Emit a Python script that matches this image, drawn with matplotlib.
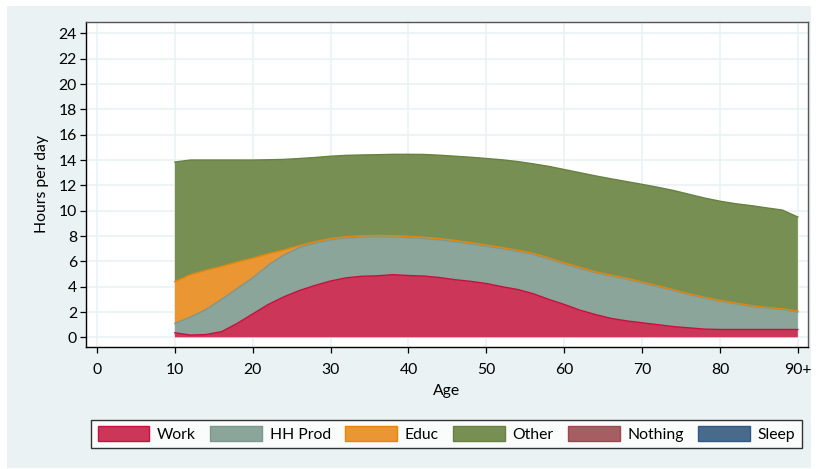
import numpy as np
import matplotlib
matplotlib.use("Agg")
import matplotlib.pyplot as plt
from matplotlib.patches import Patch, Rectangle

plt.rcParams['font.family'] = ['Lato', 'DejaVu Sans']

# ages 10..90 every 2 years
ages = [10, 12, 14, 16, 18, 20, 22, 24, 26, 28, 30, 32, 34, 36, 38, 40, 42, 44, 46, 48,
        50, 52, 54, 56, 58, 60, 62, 64, 66, 68, 70, 72, 74, 76, 78, 80, 82, 84, 86, 88, 90]

work = [0.36, 0.18, 0.22, 0.45, 1.1, 1.85, 2.6, 3.2, 3.7, 4.1, 4.45, 4.7, 4.82, 4.86, 4.95, 4.88,
        4.84, 4.72, 4.55, 4.42, 4.25, 4.0, 3.78, 3.45, 3.0, 2.6, 2.15, 1.8, 1.5, 1.3, 1.15, 1.0,
        0.85, 0.75, 0.65, 0.62, 0.62, 0.62, 0.62, 0.62, 0.62]

# cumulative tops
hh_top = [1.1, 1.6, 2.2, 3.0, 3.85, 4.7, 5.7, 6.5, 7.1, 7.45, 7.7, 7.85, 7.92, 7.94, 7.93, 7.88,
          7.8, 7.7, 7.55, 7.38, 7.2, 7.0, 6.8, 6.55, 6.2, 5.8, 5.45, 5.1, 4.85, 4.6, 4.3, 4.0,
          3.7, 3.38, 3.1, 2.85, 2.65, 2.45, 2.3, 2.2, 2.0]
educ_top = [4.39, 4.95, 5.3, 5.6, 5.95, 6.25, 6.6, 6.9, 7.25, 7.55, 7.8, 7.95, 8.02, 8.04, 8.03, 7.98,
            7.9, 7.8, 7.65, 7.48, 7.29, 7.09, 6.88, 6.63, 6.28, 5.88, 5.53, 5.17, 4.92, 4.67, 4.37, 4.07,
            3.76, 3.44, 3.16, 2.91, 2.71, 2.51, 2.36, 2.26, 2.06]
total = [13.84, 14.0, 14.0, 14.0, 14.0, 14.0, 14.02, 14.05, 14.12, 14.2, 14.3, 14.37, 14.4, 14.42,
         14.45, 14.45, 14.44, 14.38, 14.3, 14.22, 14.12, 14.02, 13.88, 13.7, 13.5, 13.25, 13.0,
         12.75, 12.52, 12.3, 12.08, 11.85, 11.6, 11.3, 11.0, 10.75, 10.55, 10.4, 10.22, 10.05, 9.5]

hh_prod = list(np.array(hh_top) - np.array(work))
educ = list(np.array(educ_top) - np.array(hh_top))
other = list(np.array(total) - np.array(educ_top))
nothing = [0.0] * len(ages)
sleep = [0.0] * len(ages)

labels = ['Work', 'HH Prod', 'Educ', 'Other', 'Nothing', 'Sleep']
series = [work, hh_prod, educ, other, nothing, sleep]
fills = ['#CC3759', '#8CA59A', '#EA9632', '#788F54', '#A65E62', '#486B8C']
edges = ['#C8103E', '#7C978C', '#E4850C', '#67813F', '#9B4A50', '#2F5882']

xticks = [0, 10, 20, 30, 40, 50, 60, 70, 80, 90]
xticklabels = ['0', '10', '20', '30', '40', '50', '60', '70', '80', '90+']
yticks = list(range(0, 25, 2))

fs = 11.3

fig = plt.figure(figsize=(8.2, 4.69), dpi=100)
fig.patch.set_facecolor('white')
fig.patches.append(Rectangle((7 / 820, 1 - 468 / 469), 804 / 820, 462 / 469,
                             transform=fig.transFigure, facecolor='#EAF2F3',
                             edgecolor='none', zorder=-10))

ax = fig.add_axes([86 / 820, 1 - 346.7 / 469, 722 / 820, 324.7 / 469])
ax.set_facecolor('white')

x = np.array(ages)
base = np.zeros(len(ages))
for vals, fc, ec in zip(series, fills, edges):
    v = np.array(vals)
    if not v.any():
        continue
    ax.fill_between(x, base, base + v, facecolor=fc, edgecolor='none', zorder=2)
    ax.plot(x, base + v, color=ec, lw=1.0, zorder=3)
    base = base + v

ax.set_xlim(-1.41, 91.3)
ax.set_ylim(-0.74, 24.9)
ax.set_xticks(xticks)
ax.set_xticklabels(xticklabels)
ax.set_yticks(yticks)
ax.grid(True, color='#EAF2F3', lw=1.2, zorder=0)
ax.set_axisbelow(True)
ax.tick_params(axis='both', direction='out', length=4.5, width=0.9, color='black',
               labelsize=fs)
ax.tick_params(axis='x', pad=7.5)
ax.tick_params(axis='y', pad=2)
for s in ['left', 'bottom']:
    ax.spines[s].set_color('black')
    ax.spines[s].set_linewidth(1.0)
for s in ['top', 'right']:
    ax.spines[s].set_color('#555555')
    ax.spines[s].set_linewidth(1.0)

ax.set_ylabel('Hours per day', fontsize=fs, labelpad=7)
ax.set_xlabel('Age', fontsize=fs, labelpad=5)

handles = [Patch(facecolor=fc, edgecolor=ec, lw=1.0) for fc, ec in zip(fills, edges)]
leg = fig.legend(handles, labels, ncol=6, loc='center',
                 bbox_to_anchor=(446.5 / 820, 1 - 434 / 469), fontsize=fs,
                 frameon=True, fancybox=False, edgecolor='black', facecolor='white',
                 handlelength=3.3, handleheight=1.05, handletextpad=0.5,
                 columnspacing=0.9, borderpad=0.4, borderaxespad=0)
leg.get_frame().set_linewidth(1.0)

fig.savefig('out.png', dpi=100)
